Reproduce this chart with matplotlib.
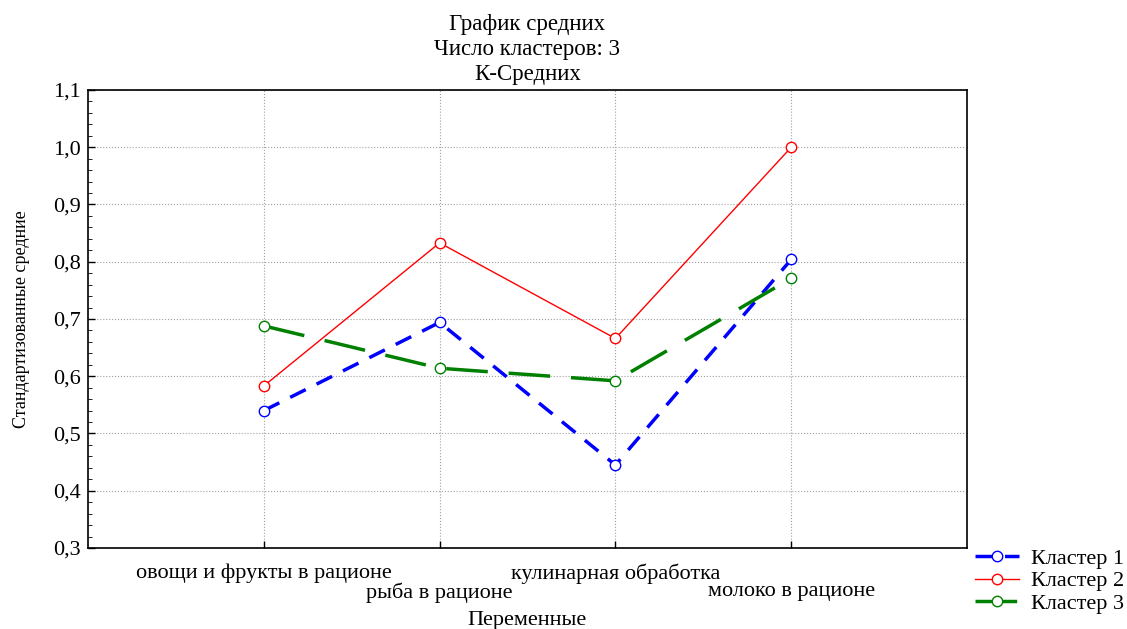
import matplotlib
matplotlib.use("Agg")
import matplotlib.pyplot as plt
from matplotlib.ticker import MultipleLocator, FuncFormatter

categories = ["овощи и фрукты в рационе", "рыба в рационе", "кулинарная обработка", "молоко в рационе"]
cluster1 = [0.540, 0.694, 0.445, 0.804]
cluster2 = [0.583, 0.833, 0.666, 1.000]
cluster3 = [0.688, 0.614, 0.592, 0.771]
series_names = ["Кластер 1", "Кластер 2", "Кластер 3"]

plt.rcParams['font.family'] = ['Liberation Serif', 'DejaVu Serif']
FS = 16

fig = plt.figure(figsize=(11.27, 6.29), dpi=100)
ax = fig.add_axes([88/1127, 1-548/629, (967-88)/1127, (548-90)/629])

x = list(range(1, len(categories)+1))
mk = dict(marker='o', markersize=7.5, markerfacecolor='white', markeredgewidth=1.0)
ax.plot(x, cluster1, color='#0000ff', lw=2.5, dashes=(5, 3.5), label=series_names[0],
        markeredgecolor='#0000ff', **mk)
ax.plot(x, cluster2, color='#ff0000', lw=1.0, label=series_names[1],
        markeredgecolor='#ff0000', **mk)
ax.plot(x, cluster3, color='#008000', lw=2.5, dashes=(12, 6), label=series_names[2],
        markeredgecolor='#008000', **mk)

ax.set_xlim(0, 5)
ax.set_ylim(0.3, 1.1)
ax.set_xticks(x)
ax.set_xticklabels([c if i % 2 == 0 else "\n" + c for i, c in enumerate(categories)],
                   fontsize=FS, linespacing=1.0)
ax.yaxis.set_major_locator(MultipleLocator(0.1))
ax.yaxis.set_minor_locator(MultipleLocator(0.02))
ax.yaxis.set_major_formatter(FuncFormatter(lambda v, p: f"{v:.1f}".replace('.', ',')))
ax.tick_params(axis='both', direction='in', labelsize=FS, length=5, width=1)
ax.tick_params(axis='y', which='minor', direction='in', length=3)
ax.tick_params(axis='y', pad=5)
ax.tick_params(axis='x', pad=11)
ax.grid(True, which='major', color='#a0a0a0', linestyle=':', linewidth=0.8)
for s in ax.spines.values():
    s.set_linewidth(1.2)

ax.set_ylabel("Стандартизованные средние", fontsize=13, labelpad=17)
ax.set_xlabel("Переменные", fontsize=FS, labelpad=6)
ax.set_title("График средних\nЧисло кластеров: 3\nК-Средних", fontsize=16.5, linespacing=1.27, pad=7)

leg = ax.legend(loc='upper left', bbox_to_anchor=((975-88)/879, -0.0), frameon=False,
                fontsize=FS, handlelength=2.0, handletextpad=0.5, borderaxespad=0,
                borderpad=0, labelspacing=0.1)

fig.savefig("out.png", dpi=100)
